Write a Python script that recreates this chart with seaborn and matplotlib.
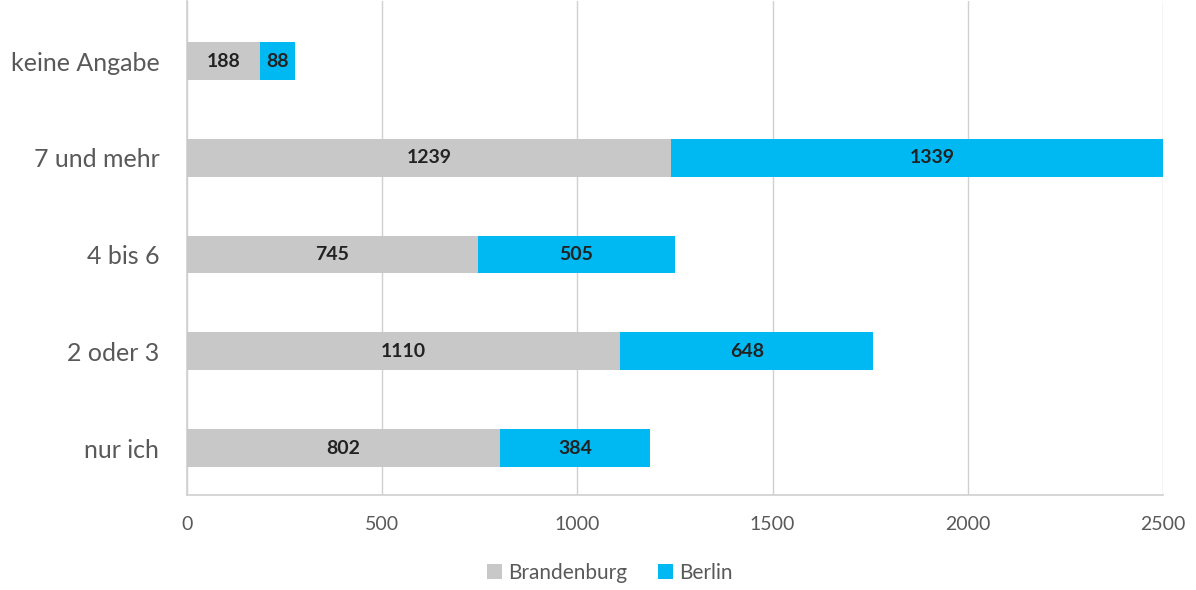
import numpy as np
import pandas as pd
import matplotlib
matplotlib.use("Agg")
import matplotlib.pyplot as plt
import seaborn as sns

# data, top to bottom as in the chart
CATEGORIES = ["keine Angabe", "7 und mehr", "4 bis 6", "2 oder 3", "nur ich"]
BRANDENBURG = [188, 1239, 745, 1110, 802]
BERLIN = [88, 1339, 505, 648, 384]
X_TICKS = [0, 500, 1000, 1500, 2000, 2500]

GRAY = "#c8c8c8"
CYAN = "#00b9f2"
TEXT = "#595959"

sns.set_theme(style="white")
plt.rcParams["font.family"] = ["Lato", "DejaVu Sans"]

df = pd.DataFrame({"Kategorie": CATEGORIES, "Brandenburg": BRANDENBURG, "Berlin": BERLIN})
df["Gesamt"] = df["Brandenburg"] + df["Berlin"]

fig = plt.figure(figsize=(11.96, 5.9), dpi=100)
ax = fig.add_axes([0.1564, 0.161, 0.816, 0.837])

# stacked: total first (Berlin colour), then Brandenburg on top
sns.barplot(data=df, y="Kategorie", x="Gesamt", color=CYAN, orient="h", linewidth=0,
            width=0.39, saturation=1, ax=ax, label="Berlin", zorder=2)
sns.barplot(data=df, y="Kategorie", x="Brandenburg", color=GRAY, orient="h", linewidth=0,
            width=0.39, saturation=1, ax=ax, label="Brandenburg", zorder=3)

for i, row in df.iterrows():
    ax.text(row["Brandenburg"] / 2, i, str(row["Brandenburg"]), ha="center", va="center",
            fontsize=14, fontweight="bold", color="#222222", zorder=5)
    ax.text(row["Brandenburg"] + row["Berlin"] / 2, i, str(row["Berlin"]), ha="center",
            va="center", fontsize=14, fontweight="bold", color="#222222", zorder=5)

ax.set_xlim(0, 2500)
ax.set_ylim(4.485, -0.62)
ax.set_xticks(X_TICKS)
ax.set_xticklabels([str(t) for t in X_TICKS], fontsize=14, color=TEXT)
ax.tick_params(axis="x", pad=15, length=0)
ax.tick_params(axis="y", pad=20, length=0, labelsize=18, labelcolor=TEXT)
ax.set_xlabel("")
ax.set_ylabel("")

ax.grid(axis="x", color="#d0d0d0", linewidth=1, zorder=0)
ax.set_axisbelow(True)
for s in ["top", "right"]:
    ax.spines[s].set_visible(False)
for s in ["left", "bottom"]:
    ax.spines[s].set_color("#d0d0d0")
    ax.spines[s].set_linewidth(1.2)

handles, labels = ax.get_legend_handles_labels()
order = [labels.index("Brandenburg"), labels.index("Berlin")]
leg = fig.legend([handles[k] for k in order], [labels[k] for k in order],
                 loc="center", bbox_to_anchor=(0.51, 0.029), ncol=2, frameon=False,
                 fontsize=15, handlelength=0.7, handleheight=0.7, handletextpad=0.3,
                 columnspacing=1.5)
for t in leg.get_texts():
    t.set_color(TEXT)
if ax.get_legend() is not None:
    ax.get_legend().remove()

fig.savefig("out.png", dpi=100)
